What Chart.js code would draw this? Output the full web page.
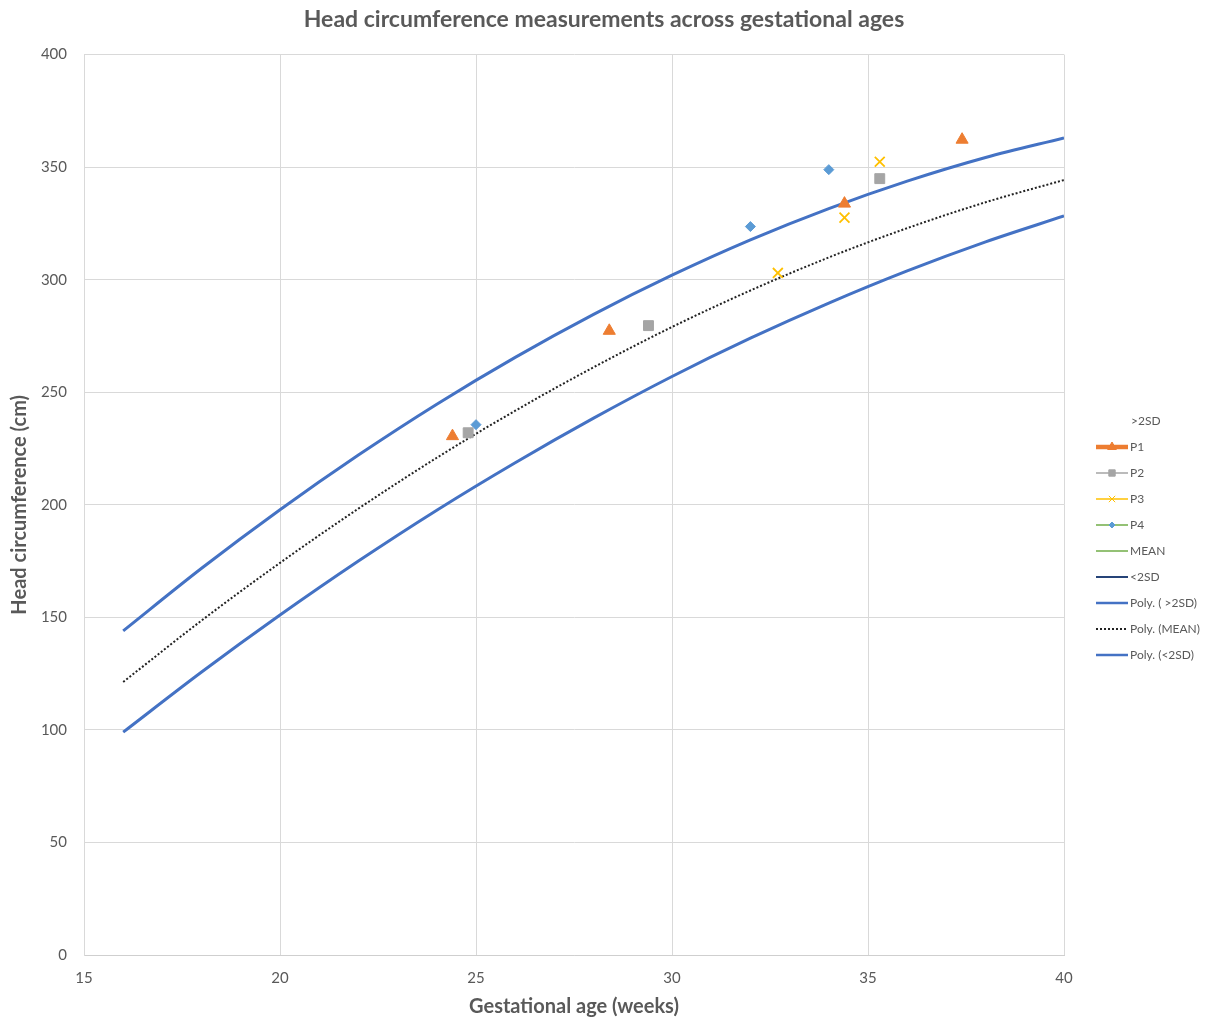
<!DOCTYPE html>
<html>
<head>
<meta charset="utf-8">
<script src="https://cdn.jsdelivr.net/npm/chart.js@4/dist/chart.umd.min.js"></script>
<style>
  html, body { margin: 0; padding: 0; background: #fff; }
  #wrap { width: 1208px; height: 1020px; }
</style>
</head>
<body>
<div id="wrap"><canvas id="hc"></canvas></div>
<script>
// Trendline curves, every 2 weeks
const curveWeeks = [16, 18, 20, 22, 24, 26, 28, 30, 32, 34, 36, 38, 40];
const polyUpper = [144, 171.8, 197.8, 222.1, 244.7, 265.5, 284.6, 302, 317.7, 331.6, 343.8, 354.3, 363];
const polyMean  = [121.3, 148.6, 174.2, 198.3, 220.9, 241.8, 261.1, 279, 295.2, 309.9, 322.9, 334.4, 344.3];
const polyLower = [99, 125.7, 151, 175, 197.6, 218.7, 238.5, 257, 274, 289.6, 303.9, 316.8, 328.3];

// Patient measurements
const p1Weeks = [24.4, 28.4, 34.4, 37.4];
const p1Hc    = [230.5, 277.3, 333.8, 362.2];
const p2Weeks = [24.8, 29.4, 35.3];
const p2Hc    = [232, 279.6, 344.9];
const p3Weeks = [32.7, 34.4, 35.3];
const p3Hc    = [303, 327.6, 352.4];
const p4Weeks = [25.0, 32.0, 34.0];
const p4Hc    = [235.6, 323.6, 348.9];

const xTicks = [15, 20, 25, 30, 35, 40];
const yTicks = [0, 50, 100, 150, 200, 250, 300, 350, 400];

function pairs(xs, ys) {
  return xs.map(function (x, i) { return { x: x, y: ys[i] }; });
}

const FONT = 'Lato, "Open Sans", sans-serif';
const GREY_TEXT = '#595959';

// Legend drawn by hand so each entry can show a line with its marker
const sideLegend = {
  id: 'sideLegend',
  afterDraw: function (chart) {
    const ctx = chart.ctx;
    const x0 = 1096, x1 = 1128, top = 421, step = 26;
    ctx.save();
    ctx.font = '12px ' + FONT;
    ctx.textBaseline = 'middle';
    ctx.fillStyle = GREY_TEXT;
    chart.data.datasets.forEach(function (ds, i) {
      const y = top + i * step;
      if (ds.legendWidth > 0) {
        ctx.save();
        ctx.strokeStyle = ds.legendColor;
        ctx.lineWidth = ds.legendWidth;
        ctx.setLineDash(ds.legendDash || []);
        ctx.beginPath();
        ctx.moveTo(x0, y);
        ctx.lineTo(x1, y);
        ctx.stroke();
        ctx.restore();
      }
      if (ds.legendMarker) {
        ctx.save();
        ctx.fillStyle = ds.pointBackgroundColor;
        ctx.strokeStyle = ds.pointBorderColor;
        Chart.helpers.drawPoint(ctx, {
          pointStyle: ds.pointStyle,
          radius: ds.legendMarker,
          rotation: 0,
          borderWidth: ds.pointBorderWidth
        }, (x0 + x1) / 2, y);
        ctx.restore();
      }
      ctx.fillStyle = GREY_TEXT;
      ctx.fillText(ds.label, ds.legendWidth > 0 ? x1 + 2 : 1131, y);
    });
    ctx.restore();
  }
};

new Chart(document.getElementById('hc'), {
  type: 'scatter',
  data: {
    datasets: [
      { label: '>2SD', data: [], legendWidth: 0 },
      {
        label: 'P1', data: pairs(p1Weeks, p1Hc), showLine: false,
        pointStyle: 'triangle', pointRadius: 7, pointHoverRadius: 7,
        pointBackgroundColor: '#ED7D31', pointBorderColor: '#ED7D31', pointBorderWidth: 1,
        legendColor: '#ED7D31', legendWidth: 4.5, legendMarker: 5
      },
      {
        label: 'P2', data: pairs(p2Weeks, p2Hc), showLine: false,
        pointStyle: 'rect', pointRadius: 7, pointHoverRadius: 7,
        pointBackgroundColor: '#A5A5A5', pointBorderColor: '#A5A5A5', pointBorderWidth: 1,
        legendColor: '#A5A5A5', legendWidth: 1.5, legendMarker: 4.5
      },
      {
        label: 'P3', data: pairs(p3Weeks, p3Hc), showLine: false,
        pointStyle: 'crossRot', pointRadius: 7, pointHoverRadius: 7,
        pointBackgroundColor: '#FFC000', pointBorderColor: '#FFC000', pointBorderWidth: 1.8,
        legendColor: '#FFC000', legendWidth: 1.5, legendMarker: 4.5
      },
      {
        label: 'P4', data: pairs(p4Weeks, p4Hc), showLine: false,
        pointStyle: 'rectRot', pointRadius: 5, pointHoverRadius: 5,
        pointBackgroundColor: '#5B9BD5', pointBorderColor: '#5B9BD5', pointBorderWidth: 1,
        legendColor: '#70AD47', legendWidth: 1.5, legendMarker: 3
      },
      { label: 'MEAN', data: [], legendColor: '#70AD47', legendWidth: 1.5 },
      { label: '<2SD', data: [], legendColor: '#264478', legendWidth: 2 },
      {
        label: 'Poly. ( >2SD)', data: pairs(curveWeeks, polyUpper), showLine: true,
        borderColor: '#4472C4', borderWidth: 3, pointRadius: 0, cubicInterpolationMode: 'monotone',
        legendColor: '#4472C4', legendWidth: 2.5
      },
      {
        label: 'Poly. (MEAN)', data: pairs(curveWeeks, polyMean), showLine: true,
        borderColor: '#222222', borderWidth: 2, borderDash: [2, 2], pointRadius: 0, cubicInterpolationMode: 'monotone',
        legendColor: '#222222', legendWidth: 2, legendDash: [2, 2]
      },
      {
        label: 'Poly. (<2SD)', data: pairs(curveWeeks, polyLower), showLine: true,
        borderColor: '#4472C4', borderWidth: 3, pointRadius: 0, cubicInterpolationMode: 'monotone',
        legendColor: '#4472C4', legendWidth: 2.5
      }
    ]
  },
  options: {
    responsive: true,
    maintainAspectRatio: false,
    animation: false,
    layout: { padding: 0 },
    plugins: {
      legend: { display: false },
      tooltip: { enabled: false },
      title: {
        display: true,
        text: 'Head circumference measurements across gestational ages',
        color: GREY_TEXT,
        font: { family: FONT, size: 23, weight: 'bold' },
        padding: { top: 6, bottom: 21 }
      }
    },
    scales: {
      x: {
        type: 'linear',
        min: 15, max: 40,
        afterBuildTicks: function (s) { s.ticks = xTicks.map(function (v) { return { value: v }; }); },
        afterFit: function (s) { s.height = 65; },
        grid: { color: '#d9d9d9', drawTicks: false },
        border: { color: '#cfcfcf' },
        ticks: { color: GREY_TEXT, font: { family: FONT, size: 15 }, padding: 14 },
        title: {
          display: true, text: 'Gestational age (weeks)', color: GREY_TEXT,
          font: { family: FONT, size: 20, weight: 'bold' }, padding: { top: 2, bottom: 1 }
        }
      },
      y: {
        type: 'linear',
        min: 0, max: 400,
        afterBuildTicks: function (s) { s.ticks = yTicks.map(function (v) { return { value: v }; }); },
        afterFit: function (s) { s.width = 84; },
        grid: { color: '#d9d9d9', drawTicks: false },
        border: { color: '#d9d9d9' },
        ticks: { color: GREY_TEXT, font: { family: FONT, size: 15 }, padding: 17 },
        title: {
          display: true, text: 'Head circumference (cm)', color: GREY_TEXT,
          font: { family: FONT, size: 20, weight: 'bold' }, padding: { top: 8, bottom: 0 }
        }
      },
      // empty right-hand scale that only reserves room for the legend
      legendSpace: {
        type: 'linear',
        position: 'right',
        min: 0, max: 400,
        afterFit: function (s) { s.width = 144; },
        grid: { drawOnChartArea: false, drawTicks: false, display: false },
        border: { display: false },
        ticks: { display: false }
      }
    }
  },
  plugins: [sideLegend]
});
</script>
</body>
</html>
